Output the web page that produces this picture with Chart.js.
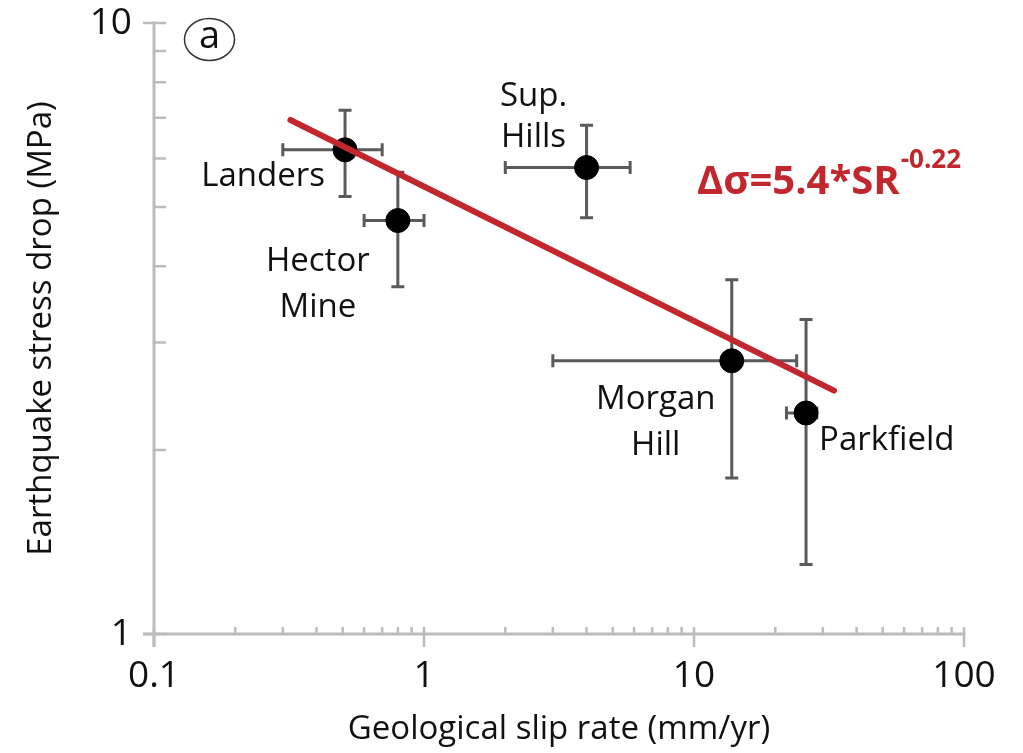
<!DOCTYPE html>
<html>
<head>
<meta charset="utf-8">
<script src="https://cdn.jsdelivr.net/npm/chart.js@4/dist/chart.umd.min.js"></script>
<style>
  html, body { margin: 0; padding: 0; background: #fff; }
  #wrap { width: 1023px; height: 753px; }
</style>
</head>
<body>
<div id="wrap"><canvas id="c" width="1023" height="753"></canvas></div>
<script>
// Earthquake stress drop vs. geological slip rate
const sites       = ['Landers', 'Hector Mine', 'Sup. Hills', 'Morgan Hill', 'Parkfield'];
const slipRate    = [0.51, 0.8, 4.0, 13.8, 26];
const slipLow     = [0.3, 0.6, 2.0, 3.0, 22];
const slipHigh    = [0.7, 1.0, 5.8, 24, 28.5];
const stressDrop  = [6.2, 4.75, 5.8, 2.8, 2.3];
const stressLow   = [5.2, 3.7, 4.8, 1.8, 1.3];
const stressHigh  = [7.2, 5.7, 6.8, 3.8, 3.27];

// power-law fit  Δσ = 5.4 * SR^-0.22, drawn over the range of slip rates below
const fitCoef  = 5.4;
const fitExp   = -0.22;
const fitRange = [0.32, 33];

const xTicks = [0.1, 1, 10, 100];
const yTicks = [1, 10];

const FONT = '"Open Sans", "Noto Sans", sans-serif';
const AXIS_GREY = '#bcbcbc';
const BAR_GREY = '#5a5a5a';
const FIT_RED = '#c1272d';

// label placement (pixel offsets from each point, line by line)
const labelStyle = [
  { align: 'right',  dx: -20, dy: [27] },
  { align: 'center', dx: -80, dy: [41, 87] },
  { align: 'center', dx: -53, dy: [-71, -30] },
  { align: 'center', dx: -76, dy: [39, 85] },
  { align: 'left',   dx: 13,  dy: [28] }
];

const points = slipRate.map((x, i) => ({ x: x, y: stressDrop[i] }));
const fitLine = fitRange.map(x => ({ x: x, y: fitCoef * Math.pow(x, fitExp) }));

function logMinorTicks(min, max) {
  const out = [];
  for (let d = min; d < max * 1.0001; d *= 10) {
    for (let k = 1; k <= 9; k++) {
      const v = +(d * k).toPrecision(6);
      if (v <= max * 1.0001) out.push({ value: v, major: k === 1 });
    }
  }
  return out;
}

const axesPlugin = {
  id: 'customAxes',
  beforeDatasetsDraw(chart) {
    const { ctx, scales } = chart;
    const xs = scales.x, ys = scales.y;
    const x0 = xs.getPixelForValue(0.1);
    const y0 = ys.getPixelForValue(1);
    ctx.save();
    ctx.strokeStyle = AXIS_GREY;
    ctx.lineWidth = 3;
    ctx.lineCap = 'butt';
    // axis lines
    ctx.beginPath();
    ctx.moveTo(x0 - 11, y0);
    ctx.lineTo(xs.getPixelForValue(100) + 1.5, y0);
    ctx.moveTo(x0, ys.getPixelForValue(10) - 1.5);
    ctx.lineTo(x0, y0 + 13);
    ctx.stroke();
    // x ticks
    ctx.lineWidth = 2.5;
    ctx.beginPath();
    logMinorTicks(0.1, 100).forEach(t => {
      const px = xs.getPixelForValue(t.value);
      if (t.major) { ctx.moveTo(px, y0 - 7); ctx.lineTo(px, y0 + 13); }
      else { ctx.moveTo(px, y0 - 7); ctx.lineTo(px, y0); }
    });
    // y ticks
    logMinorTicks(1, 10).forEach(t => {
      const py = ys.getPixelForValue(t.value);
      if (t.major) { ctx.moveTo(x0 - 11, py); ctx.lineTo(x0 + 12, py); }
      else { ctx.moveTo(x0, py); ctx.lineTo(x0 + 12, py); }
    });
    ctx.stroke();

    // error bars
    ctx.strokeStyle = BAR_GREY;
    ctx.lineWidth = 3;
    const cap = 6.5;
    ctx.beginPath();
    for (let i = 0; i < sites.length; i++) {
      const px = xs.getPixelForValue(slipRate[i]);
      const py = ys.getPixelForValue(stressDrop[i]);
      const xl = xs.getPixelForValue(slipLow[i]);
      const xh = xs.getPixelForValue(slipHigh[i]);
      const yl = ys.getPixelForValue(stressLow[i]);
      const yh = ys.getPixelForValue(stressHigh[i]);
      ctx.moveTo(xl, py); ctx.lineTo(xh, py);
      ctx.moveTo(xl, py - cap); ctx.lineTo(xl, py + cap);
      ctx.moveTo(xh, py - cap); ctx.lineTo(xh, py + cap);
      ctx.moveTo(px, yh); ctx.lineTo(px, yl);
      ctx.moveTo(px - cap, yh); ctx.lineTo(px + cap, yh);
      ctx.moveTo(px - cap, yl); ctx.lineTo(px + cap, yl);
    }
    ctx.stroke();
    ctx.restore();
  },
  afterDatasetsDraw(chart) {
    const { ctx, scales } = chart;
    const xs = scales.x, ys = scales.y;
    ctx.save();
    // site names
    ctx.fillStyle = '#111';
    ctx.font = '33px ' + FONT;
    ctx.textBaseline = 'middle';
    sites.forEach((name, i) => {
      const px = xs.getPixelForValue(slipRate[i]);
      const py = ys.getPixelForValue(stressDrop[i]);
      const st = labelStyle[i];
      const parts = st.dy.length === 1 ? [name] : name.split(' ');
      ctx.textAlign = st.align;
      parts.forEach((t, j) => ctx.fillText(t, px + st.dx, py + st.dy[j]));
    });

    // fit equation
    ctx.fillStyle = FIT_RED;
    ctx.textAlign = 'left';
    ctx.textBaseline = 'alphabetic';
    ctx.font = 'bold 40px ' + FONT;
    const eq = 'Δσ=5.4*SR';
    const ex = 697, ey = 194;
    ctx.fillText(eq, ex, ey);
    const w = ctx.measureText(eq).width;
    ctx.font = 'bold 26px ' + FONT;
    ctx.fillText('-0.22', ex + w + 1, ey - 26);

    // panel tag
    ctx.strokeStyle = '#333';
    ctx.lineWidth = 1.5;
    ctx.beginPath();
    ctx.ellipse(209.5, 39.5, 25, 21, 0, 0, Math.PI * 2);
    ctx.stroke();
    ctx.fillStyle = '#111';
    ctx.font = '38px ' + FONT;
    ctx.textAlign = 'center';
    ctx.textBaseline = 'middle';
    ctx.fillText('a', 209.5, 37);
    ctx.restore();
  }
};

new Chart(document.getElementById('c'), {
  type: 'scatter',
  data: {
    datasets: [
      {
        label: 'fit',
        type: 'line',
        data: fitLine,
        borderColor: FIT_RED,
        borderWidth: 6,
        pointRadius: 0,
        borderCapStyle: 'round',
        order: 1
      },
      {
        label: 'earthquakes',
        data: points,
        backgroundColor: '#000',
        borderColor: '#000',
        pointRadius: 12,
        pointHoverRadius: 12,
        order: 2
      }
    ]
  },
  plugins: [axesPlugin],
  options: {
    responsive: false,
    devicePixelRatio: 1,
    animation: false,
    events: [],
    layout: { padding: { top: 23, right: 59, left: 0, bottom: 0 } },
    plugins: { legend: { display: false }, tooltip: { enabled: false } },
    scales: {
      x: {
        type: 'logarithmic',
        min: 0.1, max: 100,
        grid: { display: false },
        border: { display: false },
        afterBuildTicks: s => { s.ticks = xTicks.map(v => ({ value: v })); },
        afterFit: s => { s.height = 119; s.paddingLeft = 0; s.paddingRight = 0; },
        ticks: {
          autoSkip: false, maxRotation: 0, padding: 12,
          color: '#111',
          font: { family: FONT, size: 37 },
          callback: v => String(v)
        },
        title: {
          display: true,
          text: 'Geological slip rate (mm/yr)',
          color: '#111',
          font: { family: FONT, size: 33 },
          padding: { top: 0, bottom: 4 }
        }
      },
      y: {
        type: 'logarithmic',
        min: 1, max: 10,
        grid: { display: false },
        border: { display: false },
        afterBuildTicks: s => { s.ticks = yTicks.map(v => ({ value: v })); },
        afterFit: s => { s.width = 154; s.paddingTop = 0; s.paddingBottom = 0; },
        ticks: {
          autoSkip: false, padding: 14,
          color: '#111',
          font: { family: FONT, size: 37 },
          callback: v => String(v)
        },
        title: {
          display: true,
          text: 'Earthquake stress drop (MPa)',
          color: '#111',
          font: { family: FONT, size: 33 },
          padding: { top: 22, bottom: 0 }
        }
      }
    }
  }
});
</script>
</body>
</html>
